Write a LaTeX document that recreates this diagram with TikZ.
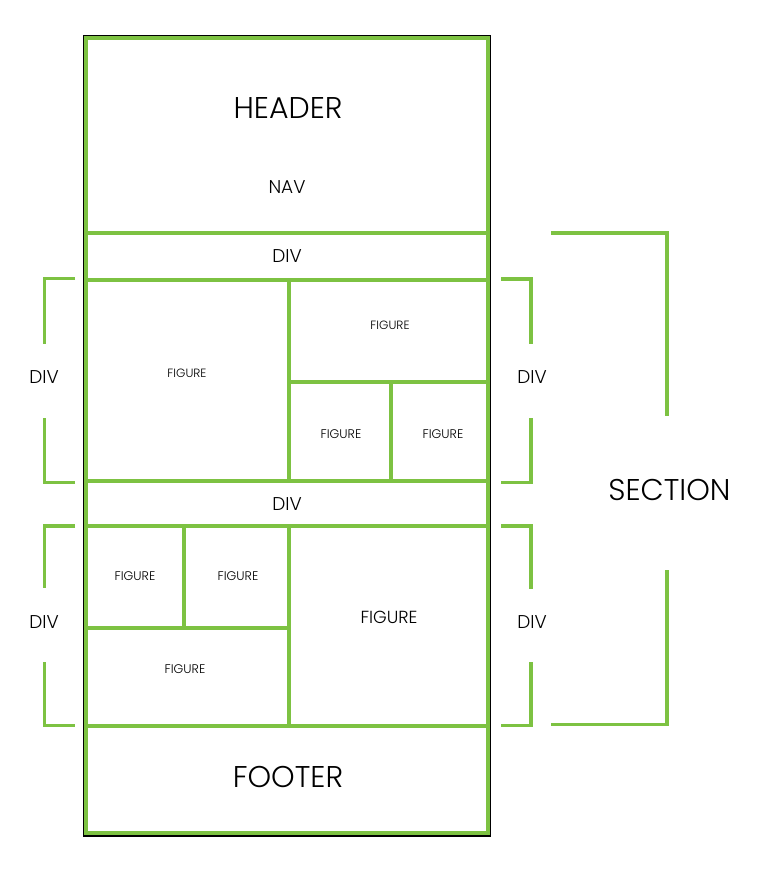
\documentclass[tikz,border=0pt]{standalone}
\usepackage{fontspec}
\IfFontExistsTF{Poppins Light}{\setmainfont{Poppins Light}}{\setmainfont{Poppins}}
\definecolor{grn}{RGB}{125,194,66}
\tikzset{
  box/.style={draw=grn, line width=4pt, inner sep=0pt, outer sep=0pt},
  brk/.style={draw=grn, line width=3.2pt},
  txt/.style={inner sep=0pt, text=black},
}
\begin{document}
\begin{tikzpicture}[x=1pt,y=-1pt]
\useasboundingbox (0,0) rectangle (767,882);
% outer black frame
\node[draw=black, line width=1.5pt, inner sep=0pt, minimum width=406.4pt, minimum height=800.4pt] (page) at (286.8,435.6) {};
% boxes
\node[box, minimum width=401.5pt, minimum height=195.5pt] (header) at (286.75,135.75) {};
\node[box, minimum width=401.5pt, minimum height=46pt] (div1) at (286.75,256.5) {};
\node[box, minimum width=202.5pt, minimum height=201pt] (figA) at (187.25,380) {};
\node[box, minimum width=199pt, minimum height=102.5pt] (figB) at (388,330.75) {};
\node[box, minimum width=102.5pt, minimum height=98.5pt] (figC) at (339.75,431.25) {};
\node[box, minimum width=96.5pt, minimum height=98.5pt] (figD) at (439.25,431.25) {};
\node[box, minimum width=401.5pt, minimum height=45.5pt] (div2) at (286.75,503.25) {};
\node[box, minimum width=98pt, minimum height=101.5pt] (figE) at (135,576.75) {};
\node[box, minimum width=104.5pt, minimum height=101.5pt] (figF) at (236.25,576.75) {};
\node[box, minimum width=202.5pt, minimum height=98pt] (figG) at (187.25,676.5) {};
\node[box, minimum width=199pt, minimum height=199.5pt] (figH) at (388,625.75) {};
\node[box, minimum width=401.5pt, minimum height=107.5pt] (footer) at (286.75,779.25) {};
% texts
\node[txt, font=\fontsize{30}{32}\selectfont] (tHeader) at (288,108) {HEADER};
\node[txt, font=\fontsize{18.5}{20}\selectfont] (tNav) at (287,187.5) {NAV};
\node[txt, font=\fontsize{18.5}{20}\selectfont] (tDiv1) at (287,256) {DIV};
\node[txt, font=\fontsize{12}{14}\selectfont] (tFigA) at (187,373) {FIGURE};
\node[txt, font=\fontsize{12}{14}\selectfont] (tFigB) at (390,325) {FIGURE};
\node[txt, font=\fontsize{12.5}{14}\selectfont] (tFigC) at (341,434) {FIGURE};
\node[txt, font=\fontsize{12.5}{14}\selectfont] (tFigD) at (443,434) {FIGURE};
\node[txt, font=\fontsize{18.5}{20}\selectfont] (tDiv2) at (287,504) {DIV};
\node[txt, font=\fontsize{12.5}{14}\selectfont] (tFigE) at (135,576) {FIGURE};
\node[txt, font=\fontsize{12.5}{14}\selectfont] (tFigF) at (238,576) {FIGURE};
\node[txt, font=\fontsize{12.5}{14}\selectfont] (tFigG) at (185,669) {FIGURE};
\node[txt, font=\fontsize{17.5}{19}\selectfont] (tFigH) at (389,617) {FIGURE};
\node[txt, font=\fontsize{30}{32}\selectfont] (tFooter) at (288,777) {FOOTER};
\node[txt, font=\fontsize{18.5}{20}\selectfont] (tDivL1) at (44,377) {DIV};
\node[txt, font=\fontsize{18.5}{20}\selectfont] (tDivL2) at (44,622) {DIV};
\node[txt, font=\fontsize{18.5}{20}\selectfont] (tDivR1) at (532,377) {DIV};
\node[txt, font=\fontsize{18.5}{20}\selectfont] (tDivR2) at (532,622) {DIV};
\node[txt, font=\fontsize{30}{32}\selectfont] (tSection) at (669.5,489.5) {SECTION};
% brackets
\draw[brk] (75,278.5) -- (44.3,278.5) -- (44.3,343.5);
\draw[brk] (44.3,418) -- (44.3,482.5) -- (75,482.5);
\draw[brk] (75,526) -- (44.3,526) -- (44.3,588);
\draw[brk] (44.3,662) -- (44.3,725.5) -- (75,725.5);
\draw[brk] (501,279) -- (531,279) -- (531,343.5);
\draw[brk] (531,418) -- (531,482.5) -- (501,482.5);
\draw[brk] (501,526) -- (531,526) -- (531,589);
\draw[brk] (531,662) -- (531,725.5) -- (501,725.5);
\draw[brk] (551,233) -- (667,233) -- (667,416);
\draw[brk] (667,570) -- (667,724.5) -- (551,724.5);
\end{tikzpicture}
\end{document}
